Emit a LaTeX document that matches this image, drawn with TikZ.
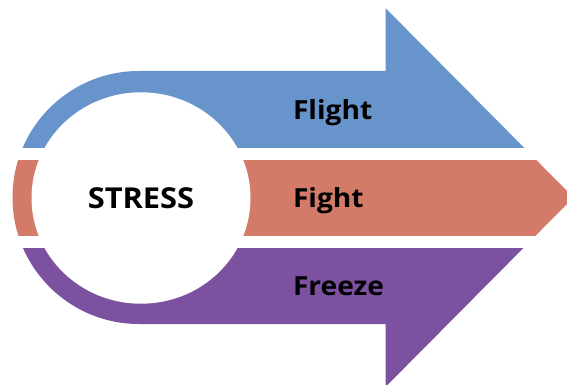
\documentclass[tikz,border=0pt]{standalone}
\usepackage{fontspec}
\setmainfont{Open Sans}[FakeStretch=1.07]
\definecolor{cblue}{RGB}{104,148,204}
\definecolor{corange}{RGB}{211,122,104}
\definecolor{cpurple}{RGB}{124,82,160}
\begin{document}
\begin{tikzpicture}[x=1pt,y=-1pt,
  lbl/.style={inner sep=0pt, anchor=base west, font=\bfseries\fontsize{26.3}{30}\selectfont, text=black}]
\useasboundingbox (0,0) rectangle (567,385);
\fill[white] (0,0) rectangle (567,385);
\path[save path=\bigarrow] (139,71) -- (385.7,71) -- (385.7,8.3) -- (573.5,197.5) -- (385.7,386.7) -- (385.7,324) -- (139,324) arc[start angle=90, end angle=270, radius=126.5] -- cycle;
\begin{scope}
  \clip (-10,-10) rectangle (600,147.3);
  \fill[cblue, use path=\bigarrow];
\end{scope}
\begin{scope}
  \clip (-10,160) rectangle (600,235.3);
  \fill[corange, use path=\bigarrow];
\end{scope}
\begin{scope}
  \clip (-10,248) rectangle (600,400);
  \fill[cpurple, use path=\bigarrow];
\end{scope}
\fill[white] (141,198) ellipse [x radius=109.5, y radius=105.7];
\node[lbl] (flight) at (292.8,119.3) {Flight};
\node[lbl] (fight) at (292.8,207.5) {Fight};
\node[lbl] (freeze) at (292.8,295.7) {Freeze};
\node[lbl, anchor=base, font=\bfseries\fontsize{28.8}{32}\selectfont] (stress) at (141,208.3) {STRESS};
\end{tikzpicture}
\end{document}
